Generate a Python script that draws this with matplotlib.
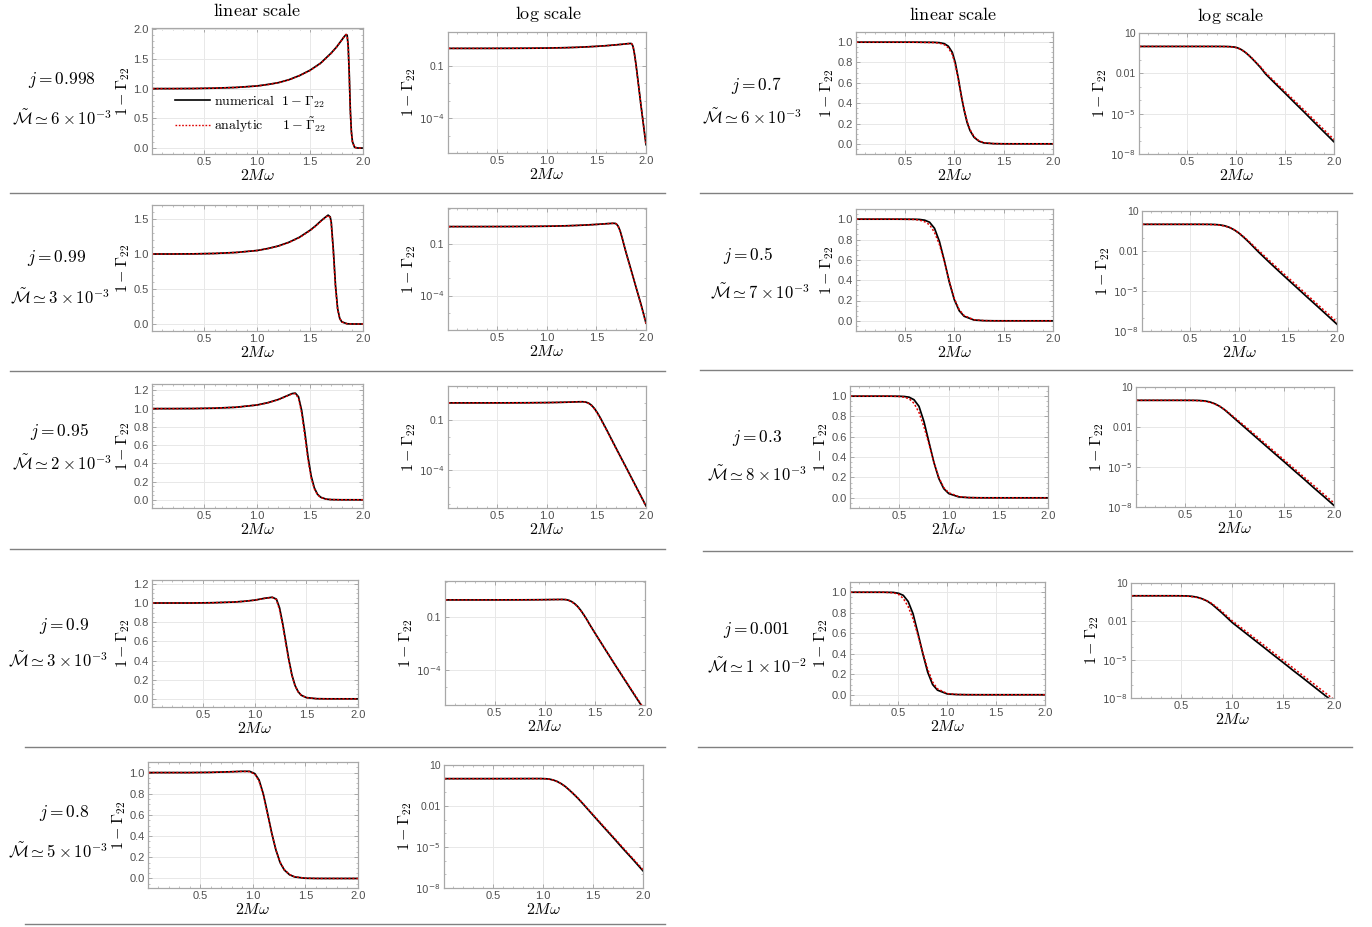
import matplotlib
matplotlib.use('Agg')
import matplotlib.pyplot as plt
from matplotlib.lines import Line2D
from matplotlib.ticker import FixedLocator, MultipleLocator
import numpy as np

plt.rcParams['mathtext.fontset'] = 'cm'
plt.rcParams['font.family'] = ['Liberation Sans', 'DejaVu Sans']

W, H = 1372, 927

# ---- data: 1 - Gamma_22 vs 2 M omega ----
x_998 = [0.01, 0.2, 0.4, 0.6, 0.8, 1.0, 1.1, 1.2, 1.3, 1.4, 1.5, 1.6, 1.7, 1.75, 1.8, 1.82, 1.84, 1.85,
         1.86, 1.87, 1.88, 1.89, 1.90, 1.92, 1.95, 2.0]
num_998 = [1.0, 1.0, 1.002, 1.008, 1.02, 1.045, 1.07, 1.10, 1.15, 1.22, 1.31, 1.43, 1.60, 1.70, 1.82, 1.87,
           1.91, 1.90, 1.72, 1.25, 0.65, 0.28, 0.11, 0.013, 5e-4, 3e-6]
ana_998 = [1.0, 1.0, 1.002, 1.008, 1.02, 1.044, 1.068, 1.10, 1.148, 1.218, 1.305, 1.425, 1.595, 1.70, 1.82, 1.87,
           1.91, 1.89, 1.70, 1.22, 0.62, 0.27, 0.105, 0.012, 4.8e-4, 2.9e-6]

x_99 = [0.01, 0.2, 0.4, 0.6, 0.8, 1.0, 1.1, 1.2, 1.3, 1.4, 1.5, 1.55, 1.6, 1.64, 1.67, 1.69, 1.70, 1.72,
        1.74, 1.76, 1.78, 1.80, 1.85, 1.9, 1.95, 2.0]
num_99 = [1.0, 1.0, 1.002, 1.008, 1.022, 1.05, 1.078, 1.115, 1.168, 1.24, 1.34, 1.40, 1.47, 1.52, 1.555, 1.53,
          1.45, 1.05, 0.55, 0.22, 0.08, 0.03, 3e-3, 3e-4, 3e-5, 2.5e-6]
ana_99 = [1.0, 1.0, 1.002, 1.008, 1.022, 1.05, 1.077, 1.113, 1.165, 1.236, 1.335, 1.395, 1.465, 1.515, 1.55, 1.52,
          1.43, 1.01, 0.52, 0.21, 0.076, 0.029, 2.9e-3, 2.9e-4, 2.9e-5, 2.4e-6]

x_95 = [0.01, 0.2, 0.4, 0.6, 0.8, 1.0, 1.1, 1.2, 1.28, 1.33, 1.36, 1.39, 1.42, 1.45, 1.48, 1.51, 1.54,
        1.57, 1.6, 1.65, 1.7, 1.8, 1.9, 2.0]
num_95 = [1.0, 1.0, 1.001, 1.005, 1.015, 1.04, 1.065, 1.10, 1.14, 1.165, 1.17, 1.13, 0.98, 0.74, 0.47, 0.26,
          0.13, 0.06, 0.028, 7.5e-3, 2.0e-3, 1.5e-4, 1.1e-5, 8e-7]
ana_95 = [1.0, 1.0, 1.001, 1.005, 1.015, 1.04, 1.064, 1.098, 1.138, 1.162, 1.165, 1.115, 0.95, 0.70, 0.44, 0.24,
          0.12, 0.055, 0.026, 7e-3, 1.9e-3, 1.45e-4, 1.05e-5, 7.5e-7]

x_9 = [0.01, 0.2, 0.4, 0.6, 0.8, 0.9, 1.0, 1.1, 1.17, 1.21, 1.24, 1.27, 1.30, 1.33, 1.36, 1.39, 1.42,
       1.45, 1.5, 1.6, 1.7, 1.8, 1.9, 2.0]
num_9 = [1.0, 1.0, 1.0, 1.003, 1.01, 1.018, 1.03, 1.05, 1.06, 1.04, 0.95, 0.79, 0.60, 0.41, 0.25, 0.14,
         0.075, 0.038, 0.013, 1.6e-3, 2e-4, 2.6e-5, 3.4e-6, 4.5e-7]
ana_9 = [1.0, 1.0, 1.0, 1.003, 1.01, 1.018, 1.03, 1.049, 1.058, 1.035, 0.93, 0.77, 0.58, 0.40, 0.245, 0.138,
         0.074, 0.038, 0.013, 1.65e-3, 2.1e-4, 2.8e-5, 3.7e-6, 5e-7]

x_8 = [0.01, 0.2, 0.4, 0.6, 0.8, 0.9, 0.97, 1.02, 1.06, 1.10, 1.14, 1.18, 1.22, 1.26, 1.30, 1.35, 1.4,
       1.5, 1.6, 1.7, 1.8, 1.9, 2.0]
num_8 = [1.0, 1.0, 1.0, 1.002, 1.008, 1.012, 1.012, 0.99, 0.93, 0.80, 0.62, 0.43, 0.27, 0.15, 0.08, 0.035,
         0.014, 2.1e-3, 3.2e-4, 5e-5, 7.5e-6, 1.2e-6, 1.8e-7]
ana_8 = [1.0, 1.0, 1.0, 1.002, 1.008, 1.011, 1.009, 0.985, 0.92, 0.79, 0.61, 0.43, 0.27, 0.155, 0.083, 0.037,
         0.015, 2.3e-3, 3.6e-4, 5.7e-5, 8.8e-6, 1.4e-6, 2.2e-7]

x_7 = [0.01, 0.2, 0.4, 0.6, 0.8, 0.85, 0.9, 0.94, 0.98, 1.01, 1.04, 1.07, 1.10, 1.13, 1.16, 1.20, 1.25,
       1.3, 1.4, 1.5, 1.6, 1.7, 1.8, 1.9, 2.0]
num_7 = [1.0, 1.0, 1.0, 1.0, 0.998, 0.995, 0.985, 0.96, 0.90, 0.80, 0.65, 0.48, 0.33, 0.21, 0.13, 0.065,
         0.026, 9e-3, 1.7e-3, 3.3e-4, 6.2e-5, 1.2e-5, 2.2e-6, 4.2e-7, 8e-8]
ana_7 = [1.0, 1.0, 1.0, 0.999, 0.996, 0.99, 0.975, 0.945, 0.88, 0.78, 0.64, 0.48, 0.34, 0.22, 0.14, 0.07,
         0.03, 0.011, 2.2e-3, 4.4e-4, 8.5e-5, 1.7e-5, 3.2e-6, 6.2e-7, 1.2e-7]

x_5 = [0.01, 0.2, 0.4, 0.6, 0.65, 0.7, 0.75, 0.8, 0.85, 0.9, 0.95, 1.0, 1.05, 1.1, 1.2, 1.3, 1.4,
       1.5, 1.6, 1.7, 1.8, 1.9, 2.0]
num_5 = [1.0, 1.0, 1.0, 0.999, 0.997, 0.99, 0.97, 0.91, 0.78, 0.59, 0.38, 0.21, 0.10, 0.045, 8e-3, 1.6e-3,
         3.3e-4, 7e-5, 1.5e-5, 3.2e-6, 7e-7, 1.5e-7, 3.2e-8]
ana_5 = [1.0, 1.0, 1.0, 0.997, 0.99, 0.975, 0.945, 0.87, 0.75, 0.58, 0.39, 0.22, 0.11, 0.052, 1.05e-2, 2.2e-3,
         4.6e-4, 1e-4, 2.2e-5, 4.7e-6, 1e-6, 2.2e-7, 4.7e-8]

x_3 = [0.01, 0.2, 0.4, 0.5, 0.55, 0.6, 0.65, 0.7, 0.75, 0.8, 0.85, 0.9, 0.95, 1.0, 1.1, 1.2, 1.3,
       1.4, 1.5, 1.6, 1.7, 1.8, 1.9, 2.0]
num_3 = [1.0, 1.0, 1.0, 0.999, 0.997, 0.99, 0.965, 0.9, 0.75, 0.55, 0.35, 0.19, 0.09, 0.042, 9.4e-3, 2.1e-3,
         4.7e-4, 1.05e-4, 2.4e-5, 5.3e-6, 1.2e-6, 2.6e-7, 5.9e-8, 1.3e-8]
ana_3 = [1.0, 1.0, 1.0, 0.997, 0.99, 0.975, 0.93, 0.84, 0.70, 0.53, 0.35, 0.20, 0.10, 0.05, 0.012, 2.8e-3,
         6.4e-4, 1.45e-4, 3.3e-5, 7.5e-6, 1.7e-6, 3.9e-7, 8.8e-8, 2e-8]

x_001 = [0.01, 0.2, 0.35, 0.45, 0.5, 0.55, 0.6, 0.65, 0.7, 0.75, 0.8, 0.85, 0.9, 1.0, 1.1, 1.2, 1.3,
         1.4, 1.5, 1.6, 1.7, 1.8, 1.9, 2.0]
num_001 = [1.0, 1.0, 1.0, 0.998, 0.99, 0.97, 0.91, 0.79, 0.6, 0.4, 0.22, 0.1, 0.045, 8e-3, 1.9e-3, 4.5e-4,
           1.07e-4, 2.5e-5, 6e-6, 1.4e-6, 3.4e-7, 8e-8, 1.9e-8, 4.5e-9]
ana_001 = [1.0, 1.0, 1.0, 0.995, 0.98, 0.94, 0.86, 0.74, 0.58, 0.41, 0.25, 0.125, 0.058, 1.1e-2, 2.7e-3, 6.5e-4,
           1.6e-4, 3.8e-5, 9.2e-6, 2.2e-6, 5.3e-7, 1.3e-7, 3.1e-8, 7.5e-9]

spins = ['0.998', '0.99', '0.95', '0.9', '0.8', '0.7', '0.5', '0.3', '0.001']
masses = [r'6\times 10^{-3}', r'3\times 10^{-3}', r'2\times 10^{-3}', r'3\times 10^{-3}', r'5\times 10^{-3}',
          r'6\times 10^{-3}', r'7\times 10^{-3}', r'8\times 10^{-3}', r'1\times 10^{-2}']
xs = [x_998, x_99, x_95, x_9, x_8, x_7, x_5, x_3, x_001]
nums = [num_998, num_99, num_95, num_9, num_8, num_7, num_5, num_3, num_001]
anas = [ana_998, ana_99, ana_95, ana_9, ana_8, ana_7, ana_5, ana_3, ana_001]

# ---- layout (pixel boxes: left, top, right, bottom) ----
lin_boxes = [(152, 28, 363, 154), (152, 205, 363, 331), (152, 384, 363, 508), (152, 580, 358, 707),
             (148, 762, 358, 888), (856, 32, 1053, 154), (856, 209, 1053, 331), (850, 386, 1048, 508),
             (850, 582, 1045, 705)]
log_boxes = [(448, 32, 646, 153), (448, 208, 646, 330), (448, 386, 646, 508), (445, 581, 645, 705),
             (444, 765, 643, 888), (1139, 33, 1334, 154), (1142, 211, 1337, 331), (1136, 387, 1334, 507),
             (1131, 583, 1334, 698)]
label_pos = [((62, 80), (62, 118)), ((57, 258), (60, 297)), ((59, 431), (62, 463)), ((64, 626), (58, 660)),
             ((64, 813), (58, 851)), ((756, 86), (752, 117)), ((748, 255), (760, 292)),
             ((757, 438), (757, 474)), ((757, 630), (757, 666))]
lin_ylims = [(-0.1, 2.02), (-0.1, 1.7), (-0.09, 1.27), (-0.085, 1.24), (-0.09, 1.1),
             (-0.1, 1.1), (-0.1, 1.1), (-0.1, 1.1), (-0.1, 1.1)]
lin_steps = [(0.5, 0.1), (0.5, 0.1), (0.2, 0.05), (0.2, 0.05), (0.2, 0.05),
             (0.2, 0.05), (0.2, 0.05), (0.2, 0.05), (0.2, 0.05)]
log_ylims = [(1e-6, 8.7), (1e-6, 12), (6e-7, 10), (1e-6, 12), (1e-8, 10),
             (1e-8, 10), (1e-8, 10), (1e-8, 10), (1e-8, 10)]
separators = [(10, 665, 193), (10, 665, 371), (10, 665, 549), (25, 665, 747), (25, 665, 924),
              (700, 1352, 193), (700, 1352, 370), (703, 1352, 551), (698, 1352, 747)]

TICK_C = '#4f4f4f'
FRAME_C = '#a8a8a8'
GRID_C = '#e8e8e8'

fig = plt.figure(figsize=(W / 100, H / 100), dpi=100)


def add_box(b):
    l, t, r, btm = b
    return fig.add_axes([l / W, 1 - btm / H, (r - l) / W, (btm - t) / H])


def style(ax):
    for s in ax.spines.values():
        s.set_color(FRAME_C)
        s.set_linewidth(0.9)
    ax.tick_params(which='both', direction='in', top=True, right=True, color=FRAME_C,
                   labelsize=8, labelcolor=TICK_C, pad=2.5)
    ax.tick_params(which='major', length=3, width=0.7)
    ax.tick_params(which='minor', length=1.6, width=0.5)
    ax.grid(True, which='major', color=GRID_C, lw=0.7)
    ax.set_axisbelow(True)
    ax.set_xlim(0.005, 2.0)
    ax.set_xticks([0.5, 1.0, 1.5, 2.0])
    ax.xaxis.set_minor_locator(MultipleLocator(0.1))
    ax.set_xlabel(r'$2M\omega$', fontsize=11.5, labelpad=0.5)
    ax.set_ylabel(r'$1-\Gamma_{22}$', fontsize=11.5, labelpad=1)


def draw(ax, x, yn, ya):
    ax.plot(x, yn, color='black', lw=1.25, solid_joinstyle='round')
    ax.plot(x, ya, color='#e00000', lw=1.1, ls=(0, (1.3, 1.3)))


for i in range(9):
    x, yn, ya = xs[i], nums[i], anas[i]

    ax = add_box(lin_boxes[i])
    style(ax)
    draw(ax, x, yn, ya)
    lo, hi = lin_ylims[i]
    step, mstep = lin_steps[i]
    ax.set_ylim(lo, hi)
    ax.set_yticks(np.arange(0, hi + 1e-6, step))
    ax.yaxis.set_minor_locator(MultipleLocator(mstep))
    ax.yaxis.set_major_formatter(matplotlib.ticker.FormatStrFormatter('%.1f'))
    if i == 0:
        handles = [Line2D([], [], color='black', lw=1.2),
                   Line2D([], [], color='#e00000', lw=1.0, ls=(0, (1.2, 1.2)))]
        labels = [r'$\mathrm{numerical}\ \ 1-\Gamma_{22}$',
                  r'$\mathrm{analytic}\quad\ \ 1-\tilde{\Gamma}_{22}$']
        ax.legend(handles, labels, loc='lower left', bbox_to_anchor=(0.05, 0.05), frameon=False,
                  fontsize=10, handlelength=2.5, handletextpad=0.3, labelspacing=0.45)

    ax = add_box(log_boxes[i])
    style(ax)
    ax.set_yscale('log')
    draw(ax, x, yn, ya)
    ax.set_ylim(*log_ylims[i])
    if i < 4:
        ticks, labs = [0.1, 1e-4], ['0.1', r'$10^{-4}$']
        minors = [10.0 ** k for k in range(-6, 2)]
    else:
        ticks, labs = [10, 0.01, 1e-5, 1e-8], ['10', '0.01', r'$10^{-5}$', r'$10^{-8}$']
        minors = [10.0 ** k for k in range(-8, 2)]
    ax.set_yticks(ticks, labs)
    ax.yaxis.set_minor_locator(FixedLocator(minors))
    ax.yaxis.set_minor_formatter(matplotlib.ticker.NullFormatter())
    for t in ax.get_yticklabels():
        t.set_math_fontfamily('dejavusans')
        t.set_fontsize(7.5)

    (jx, jy), (mx, my) = label_pos[i]
    fig.text(jx / W, 1 - jy / H, r'$j=%s$' % spins[i], fontsize=12.5, ha='center', va='center')
    fig.text(mx / W, 1 - my / H, r'$\tilde{\mathcal{M}}\simeq %s$' % masses[i], fontsize=12,
             ha='center', va='center')

for x0, x1, y in separators:
    fig.add_artist(Line2D([x0 / W, x1 / W], [1 - y / H, 1 - y / H], color='#808080', lw=1.0))

for tx, ty, s in [(257, 12, 'linear scale'), (548, 14, 'log scale'),
                  (953, 16, 'linear scale'), (1230, 16, 'log scale')]:
    fig.text(tx / W, 1 - ty / H, r'$\mathrm{%s}$' % s.replace(' ', r'\ '), fontsize=13,
             ha='center', va='center')

fig.savefig('out.png', dpi=100)
